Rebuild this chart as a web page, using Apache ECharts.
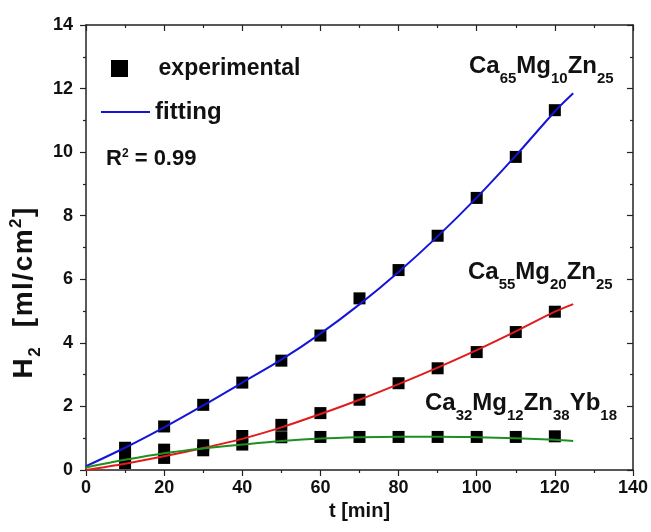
<!DOCTYPE html>
<html>
<head>
<meta charset="utf-8">
<script src="https://cdn.jsdelivr.net/npm/echarts@6/dist/echarts.min.js"></script>
<style>html,body{margin:0;padding:0;background:#fff;}#c{width:651px;height:532px;}</style>
</head>
<body>
<div id="c"></div>
<script>
// measurement times (min)
const times = [10, 20, 30, 40, 50, 60, 70, 80, 90, 100, 110, 120];
// experimental H2 (ml/cm2)
const expCa65 = [0.70, 1.37, 2.05, 2.75, 3.44, 4.23, 5.40, 6.29, 7.37, 8.56, 9.85, 11.32];
const expCa55 = [0.22, 0.38, 0.62, 1.07, 1.42, 1.79, 2.21, 2.73, 3.20, 3.71, 4.34, 4.98];
const expCa32 = [0.40, 0.64, 0.78, 0.80, 1.03, 1.04, 1.04, 1.04, 1.04, 1.04, 1.04, 1.06];
// fitted curves
const fitTimes = [0, 10, 20, 30, 40, 50, 60, 70, 80, 90, 100, 110, 120, 124.7];
const fitCa65 = [0.12, 0.70, 1.34, 2.03, 2.75, 3.47, 4.29, 5.21, 6.23, 7.35, 8.57, 9.89, 11.28, 11.85];
const fitCa55 = [0.00, 0.20, 0.43, 0.69, 0.98, 1.34, 1.76, 2.21, 2.70, 3.22, 3.77, 4.36, 4.98, 5.22];
const fitCa32 = [0.08, 0.32, 0.53, 0.68, 0.80, 0.91, 0.99, 1.03, 1.05, 1.05, 1.03, 1.00, 0.95, 0.91];
// axis ticks
const xTicks = { min: 0, max: 140, interval: 20 };
const yTicks = { min: 0, max: 14, interval: 2 };
// text labels (token, kind: m = main, s = subscript, p = superscript)
const labelCa65 = [['Ca', 'm'], ['65', 's'], ['Mg', 'm'], ['10', 's'], ['Zn', 'm'], ['25', 's']];
const labelCa55 = [['Ca', 'm'], ['55', 's'], ['Mg', 'm'], ['20', 's'], ['Zn', 'm'], ['25', 's']];
const labelCa32 = [['Ca', 'm'], ['32', 's'], ['Mg', 'm'], ['12', 's'], ['Zn', 'm'], ['38', 's'], ['Yb', 'm'], ['18', 's']];
const labelR2 = [['R', 'm'], ['2', 'p'], [' = 0.99', 'm']];
const labelYTitle = [['H', 'm'], ['2', 's'], ['  [ml/cm', 'm'], ['2', 'p'], [']', 'm']];

const FONT = '"Liberation Sans", Arial, sans-serif';
const AX = '#222';
const TXT = '#111';
const pair = (xs, ys) => xs.map((x, i) => [x, ys[i]]);

const measCtx = document.createElement('canvas').getContext('2d');
function tw(text, size) {
  measCtx.font = 'bold ' + size + 'px ' + FONT;
  return measCtx.measureText(text).width;
}
// build a group of text pieces laid out on a common baseline
function textGroup(tokens, spec, opts) {
  const pieces = [];
  let cx = 0;
  const ls = opts.letterSpacing || 0;
  tokens.forEach(([t, k]) => {
    const s = spec[k];
    const chunks = ls ? Array.from(t) : [t];
    chunks.forEach((ch) => {
      pieces.push({ ch, s, x: cx });
      cx += tw(ch, s.size) + ls;
    });
  });
  const total = cx - ls;
  const shift = opts.center ? -total / 2 : 0;
  return {
    type: 'group', x: opts.x, y: opts.y, rotation: opts.rotation || 0,
    children: pieces.map((p) => ({
      type: 'text', x: p.x + shift, y: p.s.dy - 0.3465 * p.s.size,
      style: { text: p.ch, fontSize: p.s.size, fontWeight: 'bold', fontFamily: FONT, fill: TXT, align: 'left', verticalAlign: 'middle' }
    }))
  };
}

const formulaSpec = { m: { size: 24, dy: 0 }, s: { size: 15, dy: 9.5 } };
const r2Spec = { m: { size: 22, dy: 0 }, p: { size: 12, dy: -9.5 } };
const ySpec = { m: { size: 28, dy: 0 }, s: { size: 17, dy: 7 }, p: { size: 17, dy: -12 } };

const chart = echarts.init(document.getElementById('c'), null, { renderer: 'canvas' });

const axisCommon = (pos, showLabel, inside) => ({
  type: 'value',
  position: pos,
  axisLine: { show: true, onZero: false, lineStyle: { color: AX, width: 1.5 } },
  axisTick: { show: true, inside: inside, length: 6, lineStyle: { color: AX, width: 1.2 } },
  minorTick: { show: true, splitNumber: 2, length: 3, lineStyle: { color: AX, width: 1.2 } },
  splitLine: { show: false },
  minorSplitLine: { show: false },
  axisLabel: { show: showLabel, color: TXT, fontSize: 18, fontWeight: 'bold', fontFamily: FONT },
});

const scatterSeries = (data) => ({
  name: 'experimental', type: 'scatter', symbol: 'rect', symbolSize: 12,
  itemStyle: { color: '#000', opacity: 1 }, data: data, z: 2
});
const fitSeries = (data, color) => ({
  name: 'fitting', type: 'line', smooth: 0.3, symbol: 'none', showSymbol: false, color: color,
  lineStyle: { color: color, width: 2 }, data: data, z: 3
});

const option = {
  backgroundColor: '#fff',
  animation: false,
  grid: { left: 86, right: 18, top: 25, bottom: 62, containLabel: false },
  xAxis: [
    Object.assign(axisCommon('bottom', true, false), {
      min: xTicks.min, max: xTicks.max, interval: xTicks.interval,
      name: 't [min]', nameLocation: 'middle', nameGap: 28,
      nameTextStyle: { fontSize: 20, fontWeight: 'bold', fontFamily: FONT, color: TXT },
      axisLabel: { show: true, margin: 9, color: TXT, fontSize: 18, fontWeight: 'bold', fontFamily: FONT }
    }),
    Object.assign(axisCommon('top', false, true), {
      min: xTicks.min, max: xTicks.max, interval: xTicks.interval
    })
  ],
  yAxis: [
    Object.assign(axisCommon('left', true, false), {
      min: yTicks.min, max: yTicks.max, interval: yTicks.interval,
      axisLabel: { show: true, margin: 13, color: TXT, fontSize: 18, fontWeight: 'bold', fontFamily: FONT }
    }),
    Object.assign(axisCommon('right', false, true), {
      min: yTicks.min, max: yTicks.max, interval: yTicks.interval
    })
  ],
  legend: [
    {
      data: [{ name: 'experimental', icon: 'rect' }],
      left: 111, top: 57, padding: 0,
      itemWidth: 17, itemHeight: 17,
      formatter: '    {name}',
      textStyle: { fontSize: 23, fontWeight: 'bold', fontFamily: FONT, color: TXT },
      selectedMode: false
    },
    {
      data: [{ name: 'fitting', icon: 'rect' }],
      left: 101, top: 100, padding: 0,
      itemWidth: 49, itemHeight: 2,
      textStyle: { fontSize: 24, fontWeight: 'bold', fontFamily: FONT, color: TXT },
      selectedMode: false
    }
  ],
  series: [
    scatterSeries(pair(times, expCa65)),
    scatterSeries(pair(times, expCa55)),
    scatterSeries(pair(times, expCa32)),
    fitSeries(pair(fitTimes, fitCa65), '#1515d8'),
    fitSeries(pair(fitTimes, fitCa55), '#e21a1a'),
    fitSeries(pair(fitTimes, fitCa32), '#1f8f1f')
  ],
  graphic: [
    textGroup(labelCa65, formulaSpec, { x: 469, y: 75 }),
    textGroup(labelCa55, formulaSpec, { x: 468, y: 280.5 }),
    textGroup(labelCa32, formulaSpec, { x: 425, y: 411.5 }),
    textGroup(labelR2, r2Spec, { x: 106, y: 167 }),
    textGroup(labelYTitle, ySpec, { x: 34, y: 293, rotation: Math.PI / 2, center: true, letterSpacing: 1.5 })
  ]
};
chart.setOption(option);
</script>
</body>
</html>
